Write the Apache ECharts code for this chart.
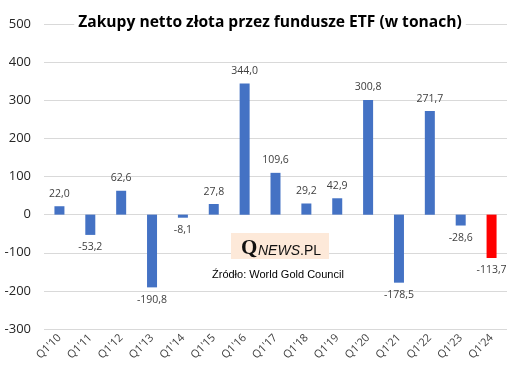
<!DOCTYPE html>
<html><head><meta charset="utf-8">
<script src="https://cdn.jsdelivr.net/npm/echarts@6/dist/echarts.min.js"></script>
<style>html,body{margin:0;padding:0;background:#fff}#c{width:522px;height:381px}</style>
</head><body><div id="c"></div>
<script>
var categories = ["Q1'10","Q1'11","Q1'12","Q1'13","Q1'14","Q1'15","Q1'16","Q1'17","Q1'18","Q1'19","Q1'20","Q1'21","Q1'22","Q1'23","Q1'24"];
var values = [22.0,-53.2,62.6,-190.8,-8.1,27.8,344.0,109.6,29.2,42.9,300.8,-178.5,271.7,-28.6,-113.7];
var highlightIndex = 14;
var yTicks = {min:-300, max:500, interval:100};
var titleText = "Zakupy netto złota przez fundusze ETF (w tonach)";
var sourceText = "Źródło: World Gold Council";

var chart = echarts.init(document.getElementById('c'), null, {renderer:'canvas'});
var data = values.map(function(v,i){
  return {value:v, itemStyle:{color: i===highlightIndex ? '#ff0000' : '#4472c4'}};
});
chart.setOption({
  animation:false,
  title:{text:titleText, left:266, top:13, textAlign:'center', backgroundColor:'#fff', padding:[2,4,2,4],
    textStyle:{fontFamily:'Open Sans, Liberation Sans, sans-serif', fontSize:15.6, fontWeight:'bold', color:'#000'}},
  grid:{left:44, right:15, top:24, bottom:52, containLabel:false},
  xAxis:{type:'category', data:categories,
    axisLine:{show:false}, axisTick:{show:false},
    axisLabel:{rotate:45, interval:0, fontSize:11, color:'#404040', fontFamily:'Open Sans, Liberation Sans, sans-serif', margin:7}},
  yAxis:{type:'value', min:yTicks.min, max:yTicks.max, interval:yTicks.interval,
    axisLine:{show:false}, axisTick:{show:false},
    splitLine:{lineStyle:{color:'#d9d9d9', width:1}},
    axisLabel:{fontSize:13, color:'#262626', fontFamily:'Open Sans, Liberation Sans, sans-serif', margin:13}},
  series:[{type:'bar', data:data, barWidth:10,
    label:{show:true, position:'outside', fontSize:10.5, color:'#404040',
      fontFamily:'Open Sans, Liberation Sans, sans-serif', distance:7,
      formatter:function(p){return p.value.toFixed(1).replace('.',',');}}
  }],
  graphic:[
    {type:'rect', left:231, top:233, shape:{width:98, height:26}, style:{fill:'#fde9d9'}, z:10},
    {type:'text', left:241, top:238, style:{text:'Q', font:'bold 21px "Liberation Serif", serif', fill:'#111'}, z:11},
    {type:'text', left:258, top:244, style:{text:'NEWS', font:'italic 14px "Liberation Sans", sans-serif', fill:'#111'}, z:11},
    {type:'text', left:300, top:244, style:{text:'.PL', font:'14px "Liberation Sans", sans-serif', fill:'#111'}, z:11},
    {type:'text', left:212, top:269, style:{text:sourceText, font:'11px "Liberation Sans", sans-serif', fill:'#000'}, z:11}
  ]
});
</script></body></html>
